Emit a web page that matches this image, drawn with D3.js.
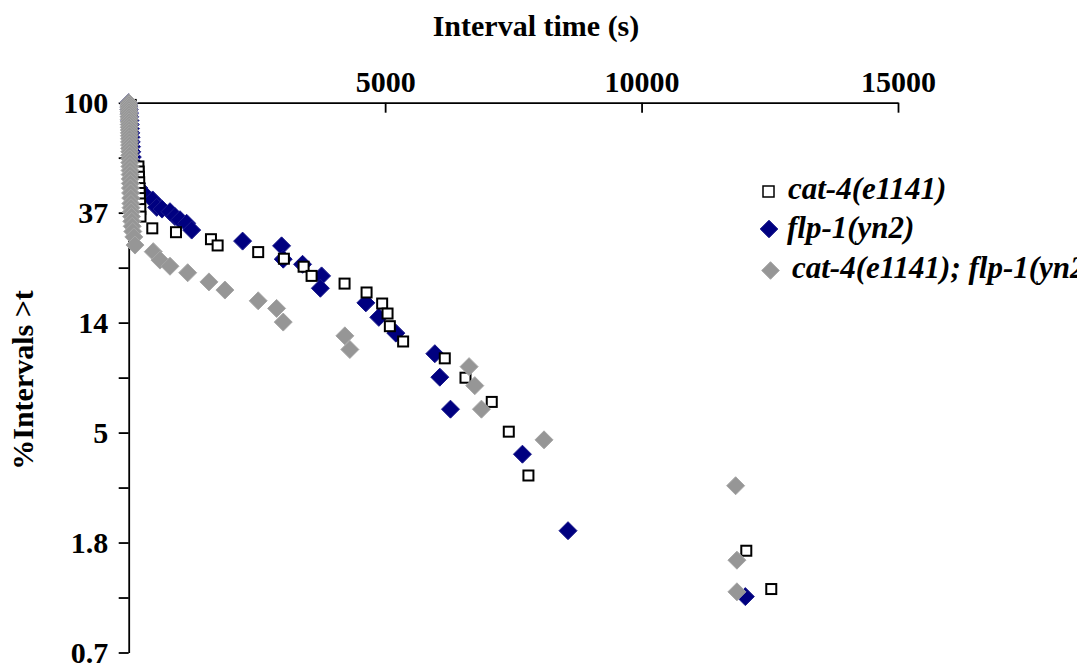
<!DOCTYPE html>
<html><head><meta charset="utf-8">
<script src="https://cdn.jsdelivr.net/npm/d3@7"></script>
<style>
body{margin:0;background:#fff}
svg{display:block}
text{font-family:"Liberation Serif","Times New Roman",serif;font-weight:bold;fill:#000}
</style>
</head><body><svg id="c" width="1077" height="666"></svg>
<script>
// ---- data ----
const seriesNames = ["cat-4(e1141)", "flp-1(yn2)", "cat-4(e1141); flp-1(yn2)"];
const xTickValues = [5000, 10000, 15000];
const yTickLabels = ["100", "37", "14", "5", "1.8", "0.7"];

const cat4Time = [40, 42, 44, 46, 48, 50, 52, 54, 56, 58, 60, 62, 64, 190, 195, 200, 205, 210, 214, 218, 222, 226, 230, 460, 922, 1604, 1734, 2525, 3026, 3410, 3566, 4209, 4638, 4942, 5047, 5092, 5351, 6163, 6567, 7079, 7411, 7794, 12042, 12529];
const cat4Pct  = [98, 95, 92, 89, 86, 83, 80, 77, 74, 71, 68, 65, 62, 56, 53.5, 51, 48.5, 46, 44, 42, 40, 38, 35.5, 31.9, 30.8, 28.9, 27.3, 25.7, 24.2, 22.5, 20.7, 19.3, 17.8, 16.1, 14.7, 13.1, 11.4, 9.78, 8.2, 6.58, 5.02, 3.37, 1.70, 1.20];

const flp1Time = [0, 5, 10, 15, 20, 25, 30, 35, 40, 45, 50, 55, 60, 70, 80, 90, 100, 120, 150, 200, 285, 468, 546, 650, 805, 902, 1000, 1130, 1228, 2221, 2981, 3013, 3390, 3761, 3737, 4624, 4877, 5209, 5969, 6066, 6274, 7677, 8566, 12023];
const flp1Pct  = [100, 97, 94, 91, 88, 85, 82, 79, 76, 73, 70, 67, 64, 61, 58, 55, 52, 50, 48, 46, 43.9, 41.3, 38.6, 38.0, 37.1, 35.5, 34.5, 33.4, 31.4, 28.4, 27.2, 24.1, 23.0, 20.7, 18.5, 16.2, 14.2, 12.3, 10.2, 8.24, 6.16, 4.09, 2.04, 1.12];

const dblTime = [0, 2, 3, 4, 5, 6, 7, 8, 9, 10, 11, 12, 13, 14, 15, 16, 17, 18, 19, 20, 21, 22, 24, 26, 28, 30, 32, 34, 37, 40, 43, 46, 50, 55, 60, 68, 80, 100, 123, 479, 610, 805, 1150, 1565, 1876, 2525, 2884, 3013, 4215, 4312, 6637, 6748, 6878, 8098, 11834, 11859, 11859];
const dblPct  = [100, 98, 96, 94, 92, 90, 88, 86, 84, 82, 80, 78, 76, 74, 72, 70, 68, 66, 64, 62, 60, 58, 56, 54, 52, 50, 48, 46, 44, 42, 40, 38.5, 37, 35.5, 34, 32.5, 31, 29.5, 27.4, 25.8, 23.9, 22.6, 21.3, 19.6, 18.2, 16.5, 15.4, 13.6, 12.0, 10.6, 9.07, 7.63, 6.16, 4.66, 3.07, 1.56, 1.17];

// ---- chart ----
const svg = d3.select("#c");
const x = d3.scaleLinear().domain([0, 15000]).range([128.7, 898]);
const yMin = 100 * Math.exp(-5);
const y = d3.scaleLog().base(Math.E).domain([yMin, 100]).range([652.5, 102.7]);

const yTickValues = d3.range(0, 11).map(k => 100 * Math.exp(-k / 2));

// y axis
const yAxis = d3.axisLeft(y).tickValues(yTickValues).tickSize(10).tickSizeOuter(0).tickPadding(10.5)
  .tickFormat((d, i) => i % 2 === 0 ? yTickLabels[i / 2] : "");
const gy = svg.append("g").attr("transform", "translate(128.7,0)").call(yAxis);
gy.selectAll("text").style("font-size", "30px").attr("dy", "0.32em");
gy.selectAll("path,line").attr("stroke", "#000").attr("stroke-width", 1.8);

// x axis (top)
const xAxis = d3.axisTop(x).tickValues(xTickValues).tickSize(-10).tickSizeOuter(0).tickPadding(10.7)
  .tickFormat(d => String(d));
const gx = svg.append("g").attr("transform", "translate(0,102.7)").call(xAxis);
gx.selectAll("text").style("font-size", "30px");
gx.selectAll("path,line").attr("stroke", "#000").attr("stroke-width", 1.8);

// titles
svg.append("text").attr("x", 536).attr("y", 36).attr("text-anchor", "middle")
  .style("font-size", "30px").text("Interval time (s)");
svg.append("text").attr("transform", "translate(33,380) rotate(-90)").attr("text-anchor", "middle")
  .style("font-size", "30px").text("%Intervals >t");

const diamond = r => `M0,${-r}L${r},0L0,${r}L${-r},0Z`;
const styles = [
  {fill: "#fff", stroke: "#000"},
  {fill: "#000080", stroke: "#1a1a8c"},
  {fill: "#969696", stroke: "#a6a6a6"}
];

function drawDiamonds(times, pcts, st) {
  const pts = times.map((t, i) => [t, pcts[i]]);
  svg.append("g").selectAll("path").data(pts).join("path")
    .attr("d", diamond(9))
    .attr("transform", d => `translate(${x(d[0])},${y(d[1])})`)
    .attr("fill", st.fill).attr("stroke", st.stroke).attr("stroke-width", 1);
}
function drawSquares(times, pcts, st) {
  const pts = times.map((t, i) => [t, pcts[i]]);
  svg.append("g").selectAll("rect").data(pts).join("rect")
    .attr("x", d => x(d[0]) - 5).attr("y", d => y(d[1]) - 5)
    .attr("width", 10).attr("height", 10)
    .attr("fill", st.fill).attr("stroke", st.stroke).attr("stroke-width", 2);
}

drawDiamonds(flp1Time, flp1Pct, styles[1]);
drawSquares(cat4Time, cat4Pct, styles[0]);
drawDiamonds(dblTime, dblPct, styles[2]);

// legend
const leg = svg.append("g");
const legRows = [
  {mx: 768.5, my: 191.5, tx: 788, ty: 199},
  {mx: 769, my: 229, tx: 787, ty: 238},
  {mx: 770.5, my: 270.5, tx: 792, ty: 278}
];
legRows.forEach((r, i) => {
  if (i === 0) {
    leg.append("rect").attr("x", r.mx - 5.5).attr("y", r.my - 5.5).attr("width", 11).attr("height", 11)
      .attr("fill", "#fff").attr("stroke", "#000").attr("stroke-width", 1.5);
  } else {
    leg.append("path").attr("d", diamond(8.8)).attr("transform", `translate(${r.mx},${r.my})`)
      .attr("fill", styles[i].fill).attr("stroke", styles[i].stroke).attr("stroke-width", 1);
  }
  leg.append("text").attr("x", r.tx).attr("y", r.ty).style("font-size", "31px")
    .style("font-style", "italic").text(seriesNames[i]);
});
</script></body></html>
